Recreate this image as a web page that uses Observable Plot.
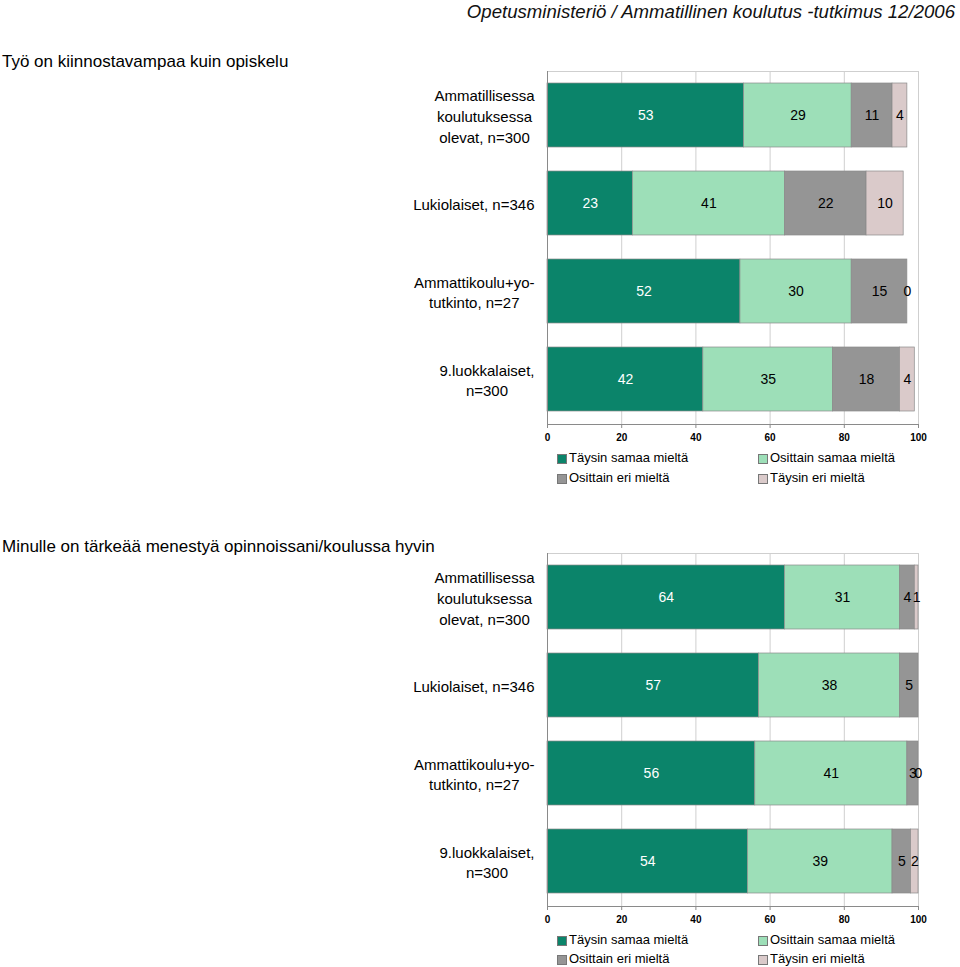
<!DOCTYPE html>
<html><head><meta charset="utf-8">
<script src="https://cdn.jsdelivr.net/npm/d3@7"></script>
<script src="https://cdn.jsdelivr.net/npm/@observablehq/plot@0.6"></script>
<style>
body{margin:0;background:#fff;font-family:"Liberation Sans",Arial,sans-serif;color:#000;}
#root{position:relative;width:960px;height:967px;overflow:hidden;background:#fff;}
.abs{position:absolute;white-space:nowrap;}
.sw{position:absolute;width:8px;height:8px;border:0.5px solid #777;}
.chart{position:absolute;left:0;}
</style></head><body><div id="root"></div>
<script>
// ---- data ----
const headerText = "Opetusministeriö / Ammatillinen koulutus -tutkimus 12/2006";
const categories = [
  "Ammatillisessa\nkoulutuksessa\nolevat, n=300",
  "Lukiolaiset, n=346",
  "Ammattikoulu+yo-\ntutkinto, n=27",
  "9.luokkalaiset,\nn=300"
];
const responses = ["Täysin samaa mieltä", "Osittain samaa mieltä", "Osittain eri mieltä", "Täysin eri mieltä"];
const colors = ["#0b846a", "#9ddfb8", "#959595", "#dacaca"];
const xTicks = [0, 20, 40, 60, 80, 100];

const chart1Title = "Työ on kiinnostavampaa kuin opiskelu";
const chart1Values = [
  [53, 29, 11, 4],
  [23, 41, 22, 10],
  [52, 30, 15, 0],
  [42, 35, 18, 4]
];
const chart2Title = "Minulle on tärkeää menestyä opinnoissani/koulussa hyvin";
const chart2Values = [
  [64, 31, 4, 1],
  [57, 38, 5, null],
  [56, 41, 3, 0],
  [54, 39, 5, 2]
];

// ---- helpers ----
const root = document.getElementById("root");
function addText(txt, css) {
  const d = document.createElement("div");
  d.className = "abs";
  d.textContent = txt;
  Object.assign(d.style, css);
  root.appendChild(d);
  return d;
}
const ctx = document.createElement("canvas").getContext("2d");
ctx.font = "15px 'Liberation Sans'";
function labelWidth(s) {
  return Math.max(...s.split("\n").map(l => ctx.measureText(l).width));
}

function makeRows(values) {
  const rows = [];
  values.forEach((vals, i) => vals.forEach((v, j) => {
    if (v != null) rows.push({cat: categories[i], resp: responses[j], value: v});
  }));
  return rows;
}

function makeChart(values, top) {
  const rows = makeRows(values);
  const isFirst = d => d.resp === responses[0];
  const plot = Plot.plot({
    width: 960,
    height: 394,
    marginLeft: 547,
    marginRight: 42,
    marginTop: 10,
    marginBottom: 31,
    style: {fontFamily: "'Liberation Sans', Arial, sans-serif", fontSize: "13px", color: "#000", background: "transparent"},
    x: {domain: [0, 100], axis: null},
    y: {domain: categories, paddingInner: 0.27, paddingOuter: 0.135, axis: null},
    color: {domain: responses, range: colors},
    marks: [
      Plot.ruleX(xTicks, {stroke: "#cfcfcf", strokeWidth: 1}),
      Plot.frame({stroke: "#cfcfcf"}),
      Plot.barX(rows, Plot.stackX({x: "value", y: "cat", fill: "resp", stroke: "#8a8a8a", strokeWidth: 0.7})),
      Plot.text(rows, Plot.stackX({x: "value", y: "cat", z: "resp",
        text: d => isFirst(d) ? String(d.value) : "", fill: "white", fontSize: 14})),
      Plot.text(rows, Plot.stackX({x: "value", y: "cat", z: "resp",
        text: d => isFirst(d) ? "" : String(d.value), fill: "black", fontSize: 14})),
      Plot.ruleX([0], {stroke: "#8a8a8a", strokeWidth: 1}),
      Plot.frame({anchor: "bottom", stroke: "#8a8a8a"}),
      Plot.axisX({ticks: xTicks, tickSize: 4, tickPadding: 5, stroke: "#8a8a8a", fontWeight: "bold", fontSize: 10,
        tickFormat: d => String(d), label: null}),
      ...categories.map(c => Plot.text([c], {
        y: d => d, text: d => d, frameAnchor: "left", textAnchor: "middle",
        dx: -(13 + labelWidth(c) / 2), fontSize: 15, lineHeight: 1.38
      }))
    ]
  });
  plot.classList.add("chart");
  plot.style.top = top + "px";
  root.appendChild(plot);
}

function makeLegend(yRow1, yRow2) {
  const pos = [[557, yRow1], [758, yRow1], [557, yRow2], [758, yRow2]];
  responses.forEach((r, i) => {
    const [x, y] = pos[i];
    const s = document.createElement("div");
    s.className = "sw";
    Object.assign(s.style, {left: x + "px", top: (y - 4.5) + "px", background: colors[i]});
    root.appendChild(s);
    addText(r, {left: (x + 12) + "px", top: (y - 8) + "px", fontSize: "13px", lineHeight: "16px"});
  });
}

// ---- layout ----
addText(headerText, {right: "5px", top: "0px", fontSize: "18.6px", fontStyle: "italic", lineHeight: "24px", color: "#111"});
addText(chart1Title, {left: "2px", top: "51px", fontSize: "17px", lineHeight: "22px"});
makeChart(chart1Values, 61);
makeLegend(458, 478);
addText(chart2Title, {left: "2px", top: "536px", fontSize: "17px", lineHeight: "22px"});
makeChart(chart2Values, 543);
makeLegend(940, 959);
</script></body></html>
